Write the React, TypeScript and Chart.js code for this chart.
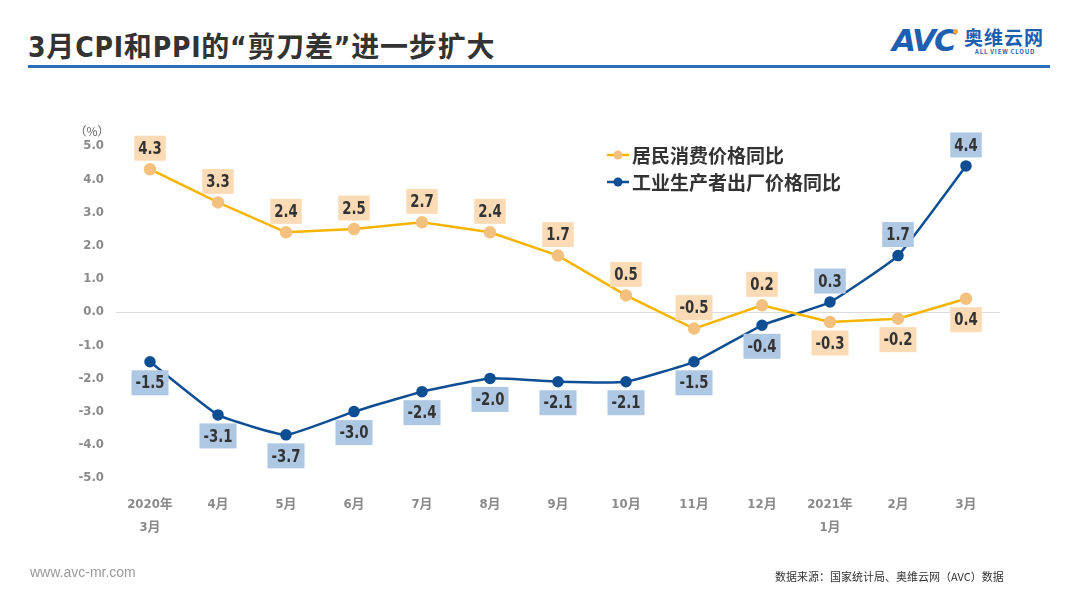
import React, { useEffect, useRef } from "react";
import { Chart, registerables } from "chart.js";

Chart.register(...registerables);

const categories: (string | string[])[] = [
  ["2020年", "3月"], "4月", "5月", "6月", "7月", "8月", "9月", "10月", "11月", "12月", ["2021年", "1月"], "2月", "3月",
];
const cpiValues = [4.3, 3.3, 2.4, 2.5, 2.7, 2.4, 1.7, 0.5, -0.5, 0.2, -0.3, -0.2, 0.4];
const ppiValues = [-1.5, -3.1, -3.7, -3.0, -2.4, -2.0, -2.1, -2.1, -1.5, -0.4, 0.3, 1.7, 4.4];
const cpiLabelSide = [-1, -1, -1, -1, -1, -1, -1, -1, -1, -1, 1, 1, 1];
const ppiLabelSide = [1, 1, 1, 1, 1, 1, 1, 1, 1, 1, -1, -1, -1];
const seriesNames = ["居民消费价格同比", "工业生产者出厂价格同比"];
const yTicks = [5, 4, 3, 2, 1, 0, -1, -2, -3, -4, -5];

const NARROW = "'Liberation Sans Narrow', 'DejaVu Sans Condensed', 'Noto Sans CJK SC', sans-serif";
const CJK = "'Noto Sans CJK SC', 'DejaVu Sans', sans-serif";

const CPI_LINE = "#F5B400";
const CPI_DOT = "#F4C07E";
const CPI_BOX = "#FADBB6";
const PPI_LINE = "#0E4E93";
const PPI_BOX = "#AEC7E3";

const labelPlugin = {
  id: "valueLabels",
  afterDatasetsDraw(chart: any) {
    const ctx = chart.ctx;
    ctx.save();
    ctx.font = `bold 18px ${NARROW}`;
    ctx.textAlign = "center";
    ctx.textBaseline = "middle";
    const sx = 0.82;
    chart.data.datasets.forEach((ds: any, di: number) => {
      const meta = chart.getDatasetMeta(di);
      const sides = di === 0 ? cpiLabelSide : ppiLabelSide;
      const box = di === 0 ? CPI_BOX : PPI_BOX;
      meta.data.forEach((pt: any, i: number) => {
        const v = ds.data[i];
        const txt = v.toFixed(1);
        const w = ctx.measureText(txt).width * sx + 8;
        const h = 25;
        const cx = pt.x;
        const cy = pt.y + sides[i] * 21;
        ctx.fillStyle = box;
        ctx.fillRect(cx - w / 2, cy - h / 2, w, h);
        ctx.fillStyle = "#333333";
        ctx.save();
        ctx.translate(cx, cy + 1);
        ctx.scale(sx, 1);
        ctx.fillText(txt, 0, 0);
        ctx.restore();
      });
    });
    // legend
    const items = [
      { name: seriesNames[0], line: CPI_LINE, dot: CPI_DOT, y: 155 },
      { name: seriesNames[1], line: PPI_LINE, dot: PPI_LINE, y: 182 },
    ];
    items.forEach((it) => {
      ctx.strokeStyle = it.line;
      ctx.lineWidth = 2.5;
      ctx.beginPath();
      ctx.moveTo(607, it.y);
      ctx.lineTo(629, it.y);
      ctx.stroke();
      ctx.fillStyle = it.dot;
      ctx.beginPath();
      ctx.arc(618, it.y, 4.5, 0, Math.PI * 2);
      ctx.fill();
      ctx.fillStyle = "#333333";
      ctx.textAlign = "left";
      ctx.font = `bold 19px ${CJK}`;
      ctx.fillText(it.name, 632, it.y + 1);
    });
    // unit
    ctx.font = `12px ${CJK}`;
    ctx.fillStyle = "#666666";
    ctx.textAlign = "center";
    ctx.fillText("（%）", 92, 131);
    ctx.restore();
  },
};

function ChartCanvas() {
  const ref = useRef<HTMLCanvasElement | null>(null);
  useEffect(() => {
    if (!ref.current) return;
    const chart = new Chart(ref.current, {
      type: "line",
      data: {
        labels: categories as any,
        datasets: [
          {
            label: seriesNames[0],
            data: cpiValues,
            borderColor: CPI_LINE,
            backgroundColor: CPI_DOT,
            pointBackgroundColor: CPI_DOT,
            pointBorderColor: CPI_DOT,
            pointRadius: 5,
            borderWidth: 2.5,
            tension: 0,
          },
          {
            label: seriesNames[1],
            data: ppiValues,
            borderColor: PPI_LINE,
            backgroundColor: PPI_LINE,
            pointBackgroundColor: PPI_LINE,
            pointBorderColor: PPI_LINE,
            pointRadius: 4.5,
            borderWidth: 2.5,
            tension: 0.12,
          },
        ],
      },
      options: {
        animation: false,
        responsive: false,
        devicePixelRatio: 1,
        layout: { padding: { left: 66, right: 80, top: 146, bottom: 69 } },
        plugins: { legend: { display: false }, tooltip: { enabled: false } },
        scales: {
          x: {
            offset: true,
            grid: { display: false },
            border: { display: false },
            ticks: {
              color: "#8a8a8a",
              font: { family: NARROW, size: 13, weight: "bold", lineHeight: 1.7 },
              padding: 8,
              maxRotation: 0,
              autoSkip: false,
            },
            afterFit: (s: any) => { s.height = 60; },
          },
          y: {
            min: -5,
            max: 5,
            afterBuildTicks: (s: any) => { s.ticks = yTicks.map((v) => ({ value: v })); },
            grid: {
              drawTicks: false,
              color: (c: any) => (c.tick && c.tick.value === 0 ? "#dcdcdc" : "rgba(0,0,0,0)"),
              lineWidth: 1,
            },
            border: { display: false },
            ticks: {
              color: "#8a8a8a",
              font: { family: NARROW, size: 13, weight: "bold" },
              padding: 12,
              callback: (v: any) => Number(v).toFixed(1),
            },
            afterFit: (s: any) => { s.width = 50; },
          },
        },
      },
      plugins: [labelPlugin],
    });
    return () => chart.destroy();
  }, []);
  return <canvas ref={ref} width={1080} height={607} style={{ position: "absolute", left: 0, top: 0, width: 1080, height: 607 }} />;
}

export default function App() {
  return (
    <div style={{ position: "fixed", left: 0, top: 0, width: 1080, height: 607, background: "#ffffff", overflow: "hidden", fontFamily: CJK }}>
      <div style={{ position: "absolute", left: 28, top: 29, fontSize: 28, fontWeight: "bold", color: "#333333", fontFamily: NARROW, whiteSpace: "nowrap", lineHeight: "38px", letterSpacing: 0.8 }}>
        3月CPI和PPI的“剪刀差”进一步扩大
      </div>
      <div style={{ position: "absolute", left: 28, top: 65, width: 1022, height: 3, background: "#2A6FB8" }} />
      <div style={{ position: "absolute", left: 892, top: 23, fontSize: 31, fontWeight: 900, color: "#1E5FAF", fontFamily: "'DejaVu Sans', sans-serif", fontStyle: "italic", lineHeight: "34px", letterSpacing: -2 }}>
        AVC
      </div>
      <div style={{ position: "absolute", left: 953, top: 29, width: 5, height: 5, borderRadius: 3, background: "#F2A53A" }} />
      <div style={{ position: "absolute", left: 964, top: 25, fontSize: 19, fontWeight: "bold", color: "#1E5FAF", lineHeight: "24px", letterSpacing: 1 }}>
        奥维云网
      </div>
      <div style={{ position: "absolute", left: 975, top: 48, fontSize: 6, fontWeight: "bold", color: "#1E5FAF", lineHeight: "8px", letterSpacing: 0.8 }}>
        ALL VIEW CLOUD
      </div>
      <ChartCanvas />
      <div style={{ position: "absolute", left: 30, top: 563, fontSize: 14, color: "#9a9a9a", fontFamily: "'Liberation Sans', sans-serif", lineHeight: "18px" }}>
        www.avc-mr.com
      </div>
      <div style={{ position: "absolute", left: 775, top: 569, fontSize: 11, color: "#333333", lineHeight: "14px", whiteSpace: "nowrap" }}>
        数据来源：国家统计局、奥维云网（AVC）数据
      </div>
    </div>
  );
}
